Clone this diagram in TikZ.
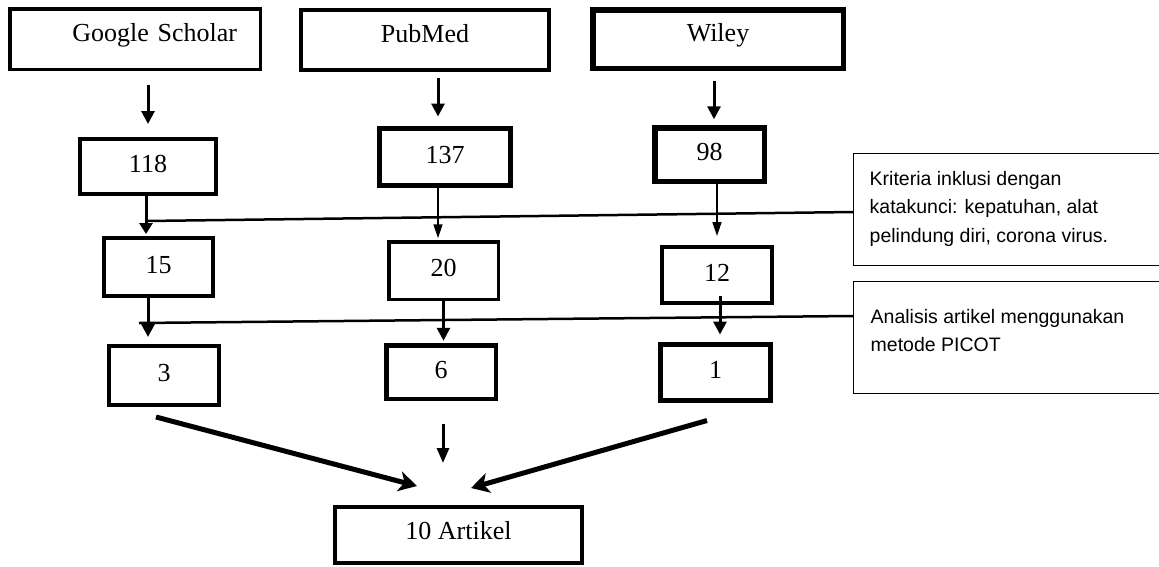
\documentclass[tikz,border=0pt]{standalone}
\usepackage{fontspec}
\setmainfont{Liberation Serif}
\newfontfamily\sansf{Liberation Sans}
\usetikzlibrary{arrows.meta}
\begin{document}
\begin{tikzpicture}[x=1pt,y=-1pt,
  box/.style={draw, line width=#1, rectangle, inner sep=0pt,
    font=\fontsize{26}{30}\selectfont, text height=18pt, text depth=6pt},
  box/.default=4pt,
  toprow/.style={text depth=12.6pt},
  note/.style={draw, line width=1.3pt, rectangle, inner sep=0pt},
  notetext/.style={font=\sansf\fontsize{19.5}{28.5}\selectfont, align=left,
    anchor=north west, inner sep=0pt},
  tarr/.style={line width=3pt, -{Triangle[width=13pt,length=13pt]}},
  tarrb/.style={line width=3pt, -{Triangle[width=13pt,length=11pt]}},
  thinarr/.style={line width=1.5pt, -{Triangle[width=9pt,length=14pt]}},
  midarr/.style={line width=3pt, -{Triangle[width=12pt,length=15pt]}},
  bigarr/.style={line width=5pt, -{Stealth[width=20pt,length=18pt,inset=5pt]}},
  xline/.style={line width=2.5pt}]
\useasboundingbox (0,0) rectangle (1159,566);
\fill[white] (0,0) rectangle (1159,566);

% top row
\node[box=3.5pt, toprow, minimum width=250.5pt, minimum height=60.5pt,
      text width=204pt, align=right] (gs) at (135,39) {Google Scholar};
\node[box=4pt, toprow, minimum width=248pt, minimum height=60pt] (pm) at (425,40) {PubMed};
\node[box=5.5pt, toprow, minimum width=250.5pt, minimum height=58.5pt] (wl) at (718,39) {Wiley};

% second row
\node[box=4pt, minimum width=136pt, minimum height=55pt] (n118) at (148,166.5) {118};
\node[box=5pt, minimum width=131pt, minimum height=57pt] (n137) at (445,157) {137};
\node[box=5.5pt, minimum width=109.5pt, minimum height=53.5pt] (n98) at (709.5,154.5) {98};

% third row
\node[box=4pt, minimum width=109pt, minimum height=58pt] (n15) at (158.5,267) {15};
\node[box=3.5pt, minimum width=109.5pt, minimum height=57.5pt] (n20) at (443.5,270.5) {20};
\node[box=4pt, minimum width=110pt, minimum height=56pt] (n12) at (717,275) {12};

% fourth row
\node[box=4pt, minimum width=110pt, minimum height=59pt] (n3) at (164,375.5) {3};
\node[box=4.5pt, minimum width=109.5pt, minimum height=53.5pt] (n6) at (441,372) {6};
\node[box=5pt, minimum width=110pt, minimum height=56pt] (n1) at (715.5,372.5) {1};

% result
\node[box=4pt, text depth=10pt, minimum width=247pt, minimum height=56pt] (art) at (458.5,535) {10 Artikel};

% notes
\node[note, minimum width=311.35pt, minimum height=111.7pt] (krit) at (1009.3,209.5) {};
\node[note, minimum width=311.35pt, minimum height=111.7pt] (anl) at (1009.3,337.5) {};
\node[notetext] (kritt) at (869.5,170.8) {Kriteria inklusi dengan\\katakunci: kepatuhan, alat\\pelindung diri, corona virus.};
\node[notetext] (anlt) at (870.5,308.8) {Analisis artikel menggunakan\\metode PICOT};

% helper coordinates
\path ([xshift=-7pt]n137.north) coordinate (t137);
\path ([xshift=4.5pt]n98.north) coordinate (t98);
\path ([xshift=-2pt]n118.south) coordinate (s118);
\path ([xshift=-7pt]n137.south) coordinate (s137);
\path ([xshift=-10.5pt]n15.south) coordinate (s15);
\path ([xshift=3pt]n12.south) coordinate (s12);
\coordinate (k1) at (146,221);
\coordinate (k2) at (139,323);

% top arrows
\draw[tarr, shorten <=13.75pt, shorten >=13pt] (gs.south -| n118.north) -- (n118.north);
\draw[tarr, shorten <=6pt, shorten >=9.5pt] (pm.south -| t137) -- (t137);
\draw[tarr, shorten <=9.75pt, shorten >=5.75pt] (wl.south -| t98) -- (t98);

% second arrows
\draw[tarrb, shorten >=2pt] (s118) -- (s118 |- n15.north);
\draw[thinarr, shorten >=1.75pt] (s137) -- (s137 |- n20.north);
\draw[thinarr, shorten >=9pt] (n98.south -| n12.north) -- (n12.north);

% third arrows
\draw[tarr, shorten >=7pt] (s15) -- (s15 |- n3.north);
\draw[tarr, shorten >=2.25pt] (n20.south) -- (n20.south |- n6.north);
\draw[tarr, shorten <=-9pt, shorten >=7.5pt] (s12) -- (s12 |- n1.north);

% cross lines
\draw[xline] (k1) -- ([yshift=-2.5pt]krit.west);
\draw[xline] (k2) -- ([yshift=21.5pt]anl.west);

% bottom arrows
\draw[bigarr] ([xshift=-8pt,yshift=-10pt]n3.south) -- ([xshift=-41.5pt,yshift=19pt]art.north);
\draw[midarr] ([xshift=2pt,yshift=-23.25pt]n6.south) -- ([xshift=-15.5pt,yshift=42pt]art.north);
\draw[bigarr] ([xshift=-8.5pt,yshift=-17.5pt]n1.south) -- ([xshift=12.5pt,yshift=17pt]art.north);
\end{tikzpicture}
\end{document}
